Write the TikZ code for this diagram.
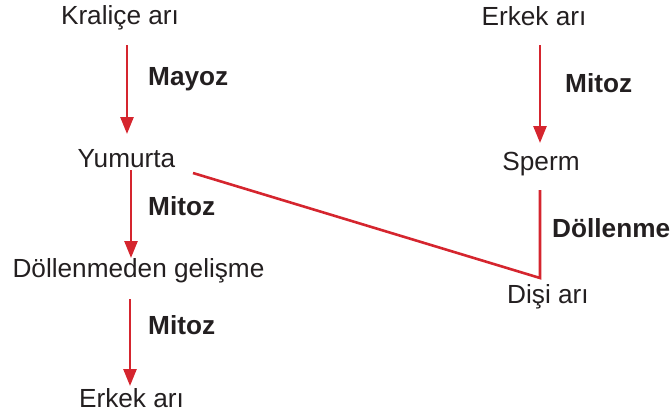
\documentclass[tikz,border=0pt]{standalone}
\usepackage{fontspec}
\setmainfont{Liberation Sans}
\usetikzlibrary{arrows.meta}
\definecolor{lnred}{RGB}{213,37,46}
\definecolor{txt}{RGB}{35,31,32}
\begin{document}
\begin{tikzpicture}[x=1pt,y=-1pt,
  lbl/.style={anchor=base,inner sep=0pt,text=txt,font=\fontsize{26.2}{30}\selectfont},
  blbl/.style={anchor=base west,inner sep=0pt,text=txt,font=\fontsize{26.2}{30}\selectfont\bfseries},
  arr/.style={draw=lnred,line width=2.6pt,-{Triangle[length=17pt,width=13pt]}},
  ln/.style={draw=lnred,line width=2.6pt}]
\useasboundingbox (0,0) rectangle (672,416);
% nodes
\node[lbl] (kral) at (120,24) {Kraliçe arı};
\node[lbl] (yum) at (126.5,167) {Yumurta};
\node[lbl] (doll) at (138.5,277) {Döllenmeden gelişme};
\node[lbl] (erkB) at (131.5,407) {Erkek arı};
\node[lbl] (erkT) at (534,25) {Erkek arı};
\node[lbl] (sperm) at (541,170) {Sperm};
\node[lbl] (disi) at (548,303) {Dişi arı};
% labels
\node[blbl] (mayoz) at (148,85) {Mayoz};
\node[blbl] (mit1) at (148,215) {Mitoz};
\node[blbl] (mit2) at (148,334) {Mitoz};
\node[blbl] (mit3) at (565,92) {Mitoz};
\node[blbl] (dln) at (552,237) {Döllenme};
% arrow end points
\coordinate (a1s) at (127,45);  \coordinate (a1e) at (127,134);
\coordinate (a2s) at (131,170); \coordinate (a2e) at (131,258);
\coordinate (a3s) at (130,299); \coordinate (a3e) at (130,386);
\coordinate (a4s) at (540,45);  \coordinate (a4e) at (540,143);
\coordinate (yumR) at (193,173);
\coordinate (spB) at (540,190);
\coordinate (join) at (540,278);
% connectors
\draw[arr] (a1s) -- (a1e);
\draw[arr] (a2s) -- (a2e);
\draw[arr] (a3s) -- (a3e);
\draw[arr] (a4s) -- (a4e);
\draw[ln,line join=miter] (yumR) -- (join) -- (spB);
\end{tikzpicture}
\end{document}
